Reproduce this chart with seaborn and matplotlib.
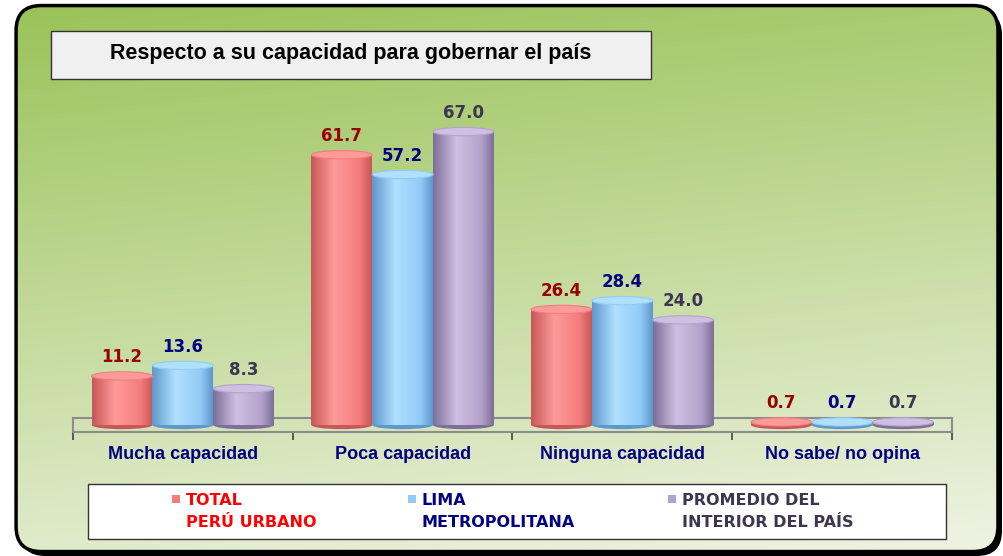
import numpy as np
import pandas as pd
import matplotlib
matplotlib.use("Agg")
import matplotlib.pyplot as plt
import seaborn as sns
from matplotlib.colors import LinearSegmentedColormap
from matplotlib.patches import FancyBboxPatch, Rectangle, Ellipse

# data
categorias = ["Mucha capacidad", "Poca capacidad", "Ninguna capacidad", "No sabe/ no opina"]
grupos = ["TOTAL\nPERÚ URBANO", "LIMA\nMETROPOLITANA", "PROMEDIO DEL\nINTERIOR DEL PAÍS"]
total_peru = [11.2, 61.7, 26.4, 0.7]
lima = [13.6, 57.2, 28.4, 0.7]
interior = [8.3, 67.0, 24.0, 0.7]

bar_colors = ["#f47c7c", "#92cbf7", "#b3a3cb"]
bar_dark = ["#c85858", "#5f98cc", "#7e6f98"]
bar_light = ["#ff9a9a", "#b0e0ff", "#cfbfe3"]
label_colors = ["#990000", "#000080", "#3c3650"]
legend_colors = ["#ff0000", "#000080", "#3c3650"]

df = pd.DataFrame({
    "categoria": categorias * 3,
    "grupo": [g for g in grupos for _ in categorias],
    "valor": total_peru + lima + interior,
})

sns.set_style("white")
plt.rcParams["font.family"] = ["Liberation Sans", "DejaVu Sans"]

fig = plt.figure(figsize=(10.04, 5.56), dpi=100)
fig.patch.set_facecolor("white")

# green gradient background inside rounded frame
bg = fig.add_axes([0, 0, 1, 1], zorder=-5)
bg.set_axis_off()
bg.set_xlim(0, 1)
bg.set_ylim(0, 1)
yy, xx = np.mgrid[0:1:200j, 0:1:300j]
t = np.clip(0.85 * (1 - yy) + 0.18 * xx, 0, 1)
top = np.array([0.60, 0.76, 0.34])
bottom = np.array([0.93, 0.95, 0.88])
img = bottom[None, None, :] * t[..., None] + top[None, None, :] * (1 - t[..., None])
img = img[::-1]
shadow = FancyBboxPatch((0.020, 0.0), 0.978, 0.982,
                        boxstyle="round,pad=0,rounding_size=0.025",
                        transform=bg.transAxes, facecolor="black",
                        edgecolor="black", lw=0, mutation_aspect=1.8)
bg.add_patch(shadow)
frame = FancyBboxPatch((0.016, 0.008), 0.978, 0.982,
                       boxstyle="round,pad=0,rounding_size=0.025",
                       transform=bg.transAxes, facecolor="none",
                       edgecolor="black", lw=2.5, mutation_aspect=1.8, zorder=3)
bg.add_patch(frame)
im = bg.imshow(img, extent=[0, 1, 0, 1], aspect="auto", zorder=2)
im.set_clip_path(frame)

# main axes
ax = fig.add_axes([0.0727, 0.2230, 0.8755, 0.6034])
ax.patch.set_alpha(0)
sns.barplot(data=df, x="categoria", y="valor", hue="grupo",
            palette=bar_colors, width=0.83, saturation=1,
            legend=False, ax=ax, zorder=3)

# cylinder shading on each bar
for k, cont in enumerate(ax.containers):
    cmap = LinearSegmentedColormap.from_list(
        "c%d" % k, [(0, bar_dark[k]), (0.38, bar_light[k]), (0.8, bar_colors[k]), (1, bar_dark[k])])
    grad = np.linspace(0, 1, 64)[None, :]
    for p in cont.patches:
        x0, w, h = p.get_x(), p.get_width(), p.get_height()
        p.set_edgecolor("none")
        g = ax.imshow(grad, extent=[x0, x0 + w, 0, h], aspect="auto",
                      cmap=cmap, zorder=3.5, interpolation="bilinear")
        g.set_clip_path(p)
        cap = Ellipse((x0 + w / 2, h), w, 1.9, facecolor=bar_light[k],
                      edgecolor=bar_colors[k], lw=0.8, zorder=4)
        ax.add_patch(cap)
        base = Ellipse((x0 + w / 2, 0), w, 1.9, facecolor=bar_dark[k],
                       edgecolor="none", zorder=3.4)
        ax.add_patch(base)
    ax.bar_label(cont, fmt="%.1f", padding=7, color=label_colors[k],
                 fontsize=12, fontweight="bold", family="DejaVu Sans", zorder=5)

ax.set_xlim(-0.5, 3.5)
ax.set_ylim(-1.6, 75)

# floor
ax.axhline(1.6, color="#8c8c8c", lw=1.5, zorder=1)
ax.spines["top"].set_visible(False)
ax.spines["left"].set_bounds(-1.6, 1.6)
ax.spines["right"].set_bounds(-1.6, 1.6)
for s in ["left", "right", "bottom"]:
    ax.spines[s].set_color("#8c8c8c")
    ax.spines[s].set_linewidth(1.5)
ax.set_yticks([])
ax.set_xticks(range(len(categorias)))
ax.set_xticks(np.arange(-0.5, 4, 1.0), minor=True)
ax.tick_params(axis="x", which="minor", bottom=True, length=6, width=1.2,
               color="#444444", direction="out")
ax.tick_params(axis="x", which="major", length=0, pad=10)
ax.set_xticklabels(categorias, fontsize=13, fontweight="bold", color="#000080")
ax.set_xlabel("")
ax.set_ylabel("")

# title box
fig.patches.append(Rectangle((0.0508, 0.8579), 0.5976, 0.0863, transform=fig.transFigure,
                             facecolor="#f0f0f0", edgecolor="#333333", lw=1, zorder=2))
fig.text(0.3496, 0.9029, "Respecto a su capacidad para gobernar el país",
         ha="center", va="center", fontsize=15.5, fontweight="bold", color="black")

# legend box
fig.patches.append(Rectangle((0.0876, 0.0306), 0.8546, 0.0989, transform=fig.transFigure,
                             facecolor="white", edgecolor="#333333", lw=1, zorder=2))
sq_x = [0.1753, 0.4104, 0.6693]
tx_x = [0.1853, 0.4194, 0.6793]
for k in range(3):
    fig.patches.append(Rectangle((sq_x[k] - 0.004, 0.0945), 0.008, 0.0160,
                                 transform=fig.transFigure, facecolor=bar_colors[k],
                                 edgecolor="none", zorder=3))
    fig.text(tx_x[k], 0.1140, grupos[k], ha="left", va="top", fontsize=11.5,
             fontweight="bold", color=legend_colors[k], family="DejaVu Sans",
             linespacing=1.6)

fig.savefig("out.png", dpi=100)
